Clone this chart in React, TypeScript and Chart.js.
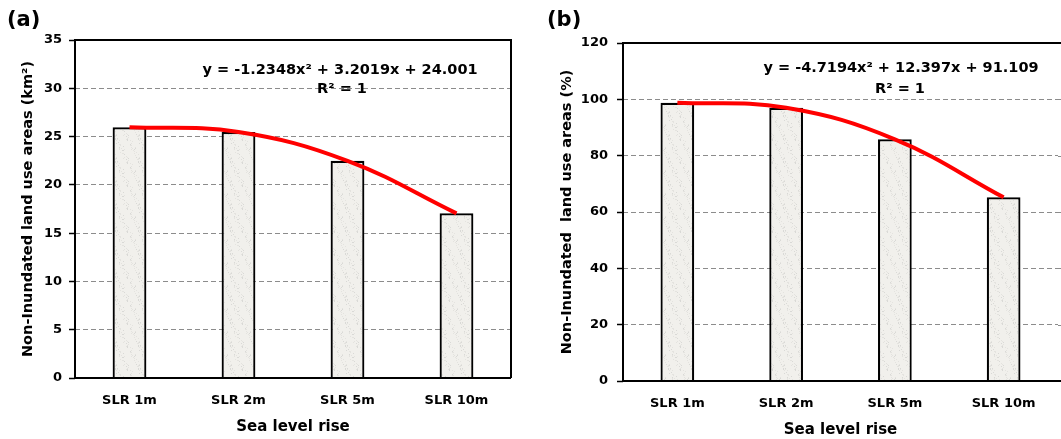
import React, { useEffect, useRef } from "react";
import { Chart, registerables } from "chart.js";

Chart.register(...registerables);

// ---------- data ----------
const categories = ["SLR 1m", "SLR 2m", "SLR 5m", "SLR 10m"];
const areaKm2 = [25.97, 25.47, 22.49, 17.05];
const trendKm2 = [25.97, 25.47, 22.49, 17.05];
const areaPct = [98.8, 97.0, 85.8, 65.2];
const trendPct = [98.8, 97.0, 85.8, 65.2];
const yRangeKm2 = [0, 35];
const yStepKm2 = 5;
const yRangePct = [0, 120];
const yStepPct = 20;
const eqKm2 = ["y = -1.2348x\u00B2 + 3.2019x + 24.001", "R\u00B2 = 1"];
const eqPct = ["y = -4.7194x\u00B2 + 12.397x + 91.109", "R\u00B2 = 1"];

const FONT = "'DejaVu Sans', 'Liberation Sans', Arial, sans-serif";

function makePattern(ctx: CanvasRenderingContext2D): CanvasPattern | string {
  const size = 23;
  const c = document.createElement("canvas");
  c.width = size;
  c.height = size;
  const p = c.getContext("2d");
  if (!p) return "#eeede9";
  p.fillStyle = "#f1f0ec";
  p.fillRect(0, 0, size, size);
  // light speckle texture (style only)
  for (let i = 0; i < 60; i++) {
    const x = (i * 17 + (i * i) % 7) % size;
    const y = (i * 11 + (i * i * i) % 5) % size;
    p.fillStyle = i % 3 === 0 ? "#d9d9d6" : "#e4e3df";
    p.fillRect(x, y, 1, 1);
  }
  return ctx.createPattern(c, "repeat") || "#eeede9";
}

const framePlugin = {
  id: "frame",
  afterDraw(chart: any, _args: any, opts: any) {
    const { ctx, chartArea: a, width } = chart;
    ctx.save();
    if (opts.extendRight) {
      const ys = chart.scales.y;
      ctx.strokeStyle = "#8c8c8c";
      ctx.lineWidth = 1;
      ctx.setLineDash([5, 3]);
      for (const t of ys.ticks) {
        const y = Math.round(ys.getPixelForValue(t.value)) + 0.5;
        ctx.beginPath();
        ctx.moveTo(a.right, y);
        ctx.lineTo(width, y);
        ctx.stroke();
      }
      ctx.setLineDash([]);
    }
    ctx.strokeStyle = "#000";
    ctx.lineWidth = 2;
    const right = opts.extendRight ? width : a.right;
    ctx.beginPath();
    ctx.moveTo(a.left, a.bottom);
    ctx.lineTo(a.left, a.top);
    ctx.lineTo(right, a.top);
    if (!opts.extendRight) ctx.lineTo(a.right, a.bottom);
    ctx.moveTo(a.left, a.bottom);
    ctx.lineTo(right, a.bottom);
    ctx.stroke();

    ctx.fillStyle = "#000";
    ctx.textBaseline = "middle";
    ctx.font = `bold 21px ${FONT}`;
    ctx.textAlign = "left";
    ctx.fillText(opts.label, opts.labelX, opts.labelY);
    ctx.font = `bold 14.5px ${FONT}`;
    ctx.textAlign = "center";
    ctx.fillText(opts.eq[0], opts.eqX, opts.eqY);
    ctx.fillText(opts.eq[1], opts.r2X, opts.r2Y);
    ctx.restore();
  },
};

type PanelProps = {
  width: number;
  values: number[];
  trend: number[];
  yRange: number[];
  yStep: number;
  yTitle: string;
  yWidth: number;
  yTitlePad: number;
  tickPad: number;
  xHeight: number;
  xLabelPad: number;
  xTitlePad: number;
  pad: { top: number; right: number; left: number; bottom: number };
  frame: any;
};

function Panel(props: PanelProps) {
  const ref = useRef<HTMLCanvasElement | null>(null);
  useEffect(() => {
    const canvas = ref.current;
    if (!canvas) return;
    const ctx = canvas.getContext("2d");
    if (!ctx) return;
    const pattern = makePattern(ctx);
    const tickFont = { family: FONT, weight: "bold" as const, size: 13 };
    const chart = new Chart(ctx, {
      type: "bar",
      data: {
        labels: categories,
        datasets: [
          {
            type: "line",
            data: props.trend,
            borderColor: "#ff0000",
            borderWidth: 4,
            pointRadius: 0,
            tension: 0.4,
            fill: false,
            order: 0,
          } as any,
          {
            type: "bar",
            data: props.values,
            backgroundColor: pattern as any,
            borderColor: "#000",
            borderWidth: 2.2,
            barPercentage: 0.31,
            categoryPercentage: 1,
            order: 1,
          } as any,
        ],
      },
      options: {
        responsive: false,
        animation: false,
        devicePixelRatio: 1,
        layout: { padding: props.pad },
        plugins: {
          legend: { display: false },
          tooltip: { enabled: false },
          frame: props.frame,
        } as any,
        scales: {
          x: {
            grid: { display: false, drawTicks: false },
            border: { display: false },
            ticks: { color: "#000", font: tickFont, padding: props.xLabelPad, maxRotation: 0 },
            title: {
              display: true,
              text: "Sea level rise",
              color: "#000",
              font: { family: FONT, weight: "bold", size: 15 },
              padding: { top: 0, bottom: props.xTitlePad },
            },
            afterFit: (s: any) => {
              s.height = props.xHeight;
            },
          },
          y: {
            min: props.yRange[0],
            max: props.yRange[1],
            ticks: { stepSize: props.yStep, color: "#000", font: tickFont, padding: props.tickPad },
            grid: {
              color: "#8c8c8c",
              lineWidth: 1,
              tickLength: 6,
              tickColor: "#000",
              tickWidth: 1.5,
              tickBorderDash: [],
            },
            border: { display: false, dash: [5, 3] },
            title: {
              display: true,
              text: props.yTitle,
              color: "#000",
              font: { family: FONT, weight: "bold", size: 14.5 },
              padding: { top: props.yTitlePad, bottom: 0 },
            },
            afterFit: (s: any) => {
              s.width = props.yWidth;
            },
          },
        } as any,
      },
      plugins: [framePlugin as any],
    });
    return () => chart.destroy();
  }, []);
  return <canvas ref={ref} width={props.width} height={439} style={{ display: "block" }} />;
}

export default function App() {
  return (
    <div style={{ position: "absolute", left: 0, top: 0, width: 1061, height: 439, background: "#fff" }}>
      <div style={{ position: "absolute", left: 0, top: 0 }}>
        <Panel
          width={530}
          values={areaKm2}
          trend={trendKm2}
          yRange={yRangeKm2}
          yStep={yStepKm2}
          yTitle={"Non-Inundated land use areas (km\u00B2)"}
          yWidth={75}
          yTitlePad={20}
          tickPad={7}
          xHeight={61}
          xLabelPad={15}
          xTitlePad={3}
          pad={{ top: 40, right: 19, left: 0, bottom: 0 }}
          frame={{
            extendRight: false,
            label: "(a)",
            labelX: 7,
            labelY: 21,
            eq: eqKm2,
            eqX: 340,
            eqY: 70,
            r2X: 342,
            r2Y: 89,
          }}
        />
      </div>
      <div style={{ position: "absolute", left: 530, top: 0 }}>
        <Panel
          width={531}
          values={areaPct}
          trend={trendPct}
          yRange={yRangePct}
          yStep={yStepPct}
          yTitle={"Non-Inundated  land use areas (%)"}
          yWidth={93}
          yTitlePad={29}
          tickPad={9}
          xHeight={58}
          xLabelPad={15}
          xTitlePad={0}
          pad={{ top: 43, right: 3, left: 0, bottom: 0 }}
          frame={{
            extendRight: true,
            label: "(b)",
            labelX: 17,
            labelY: 21,
            eq: eqPct,
            eqX: 371,
            eqY: 68,
            r2X: 370,
            r2Y: 89,
          }}
        />
      </div>
    </div>
  );
}
